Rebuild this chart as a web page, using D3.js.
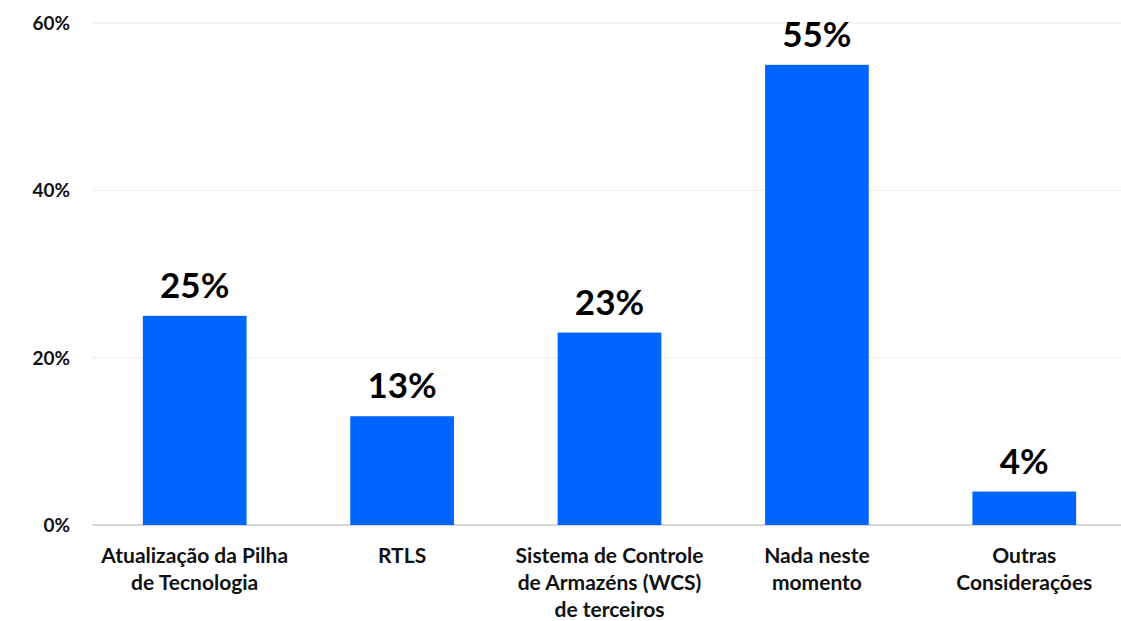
<!DOCTYPE html>
<html>
<head>
<meta charset="utf-8">
<script src="https://cdn.jsdelivr.net/npm/d3@7"></script>
<style>
  html, body { margin: 0; padding: 0; background: #fff; }
  svg { display: block; font-family: Lato, "Noto Sans", sans-serif; }
</style>
</head>
<body>
<svg id="chart" width="1121" height="621"></svg>
<script>
// Survey responses: share of respondents per planned investment
const categories = [
  ["Atualização da Pilha", "de Tecnologia"],
  ["RTLS"],
  ["Sistema de Controle", "de Armazéns (WCS)", "de terceiros"],
  ["Nada neste", "momento"],
  ["Outras", "Considerações"]
];
const values = [25, 13, 23, 55, 4];
const yTicks = [0, 20, 40, 60];

const svg = d3.select("#chart");
const keys = categories.map((c, i) => i);

const x = d3.scaleBand().domain(keys).range([91, 1128]).paddingInner(0.5).paddingOuter(0.25);
const y = d3.scaleLinear().domain([0, 60]).range([525, 23]);

// horizontal gridlines
svg.append("g")
  .selectAll("line")
  .data(yTicks)
  .join("line")
  .attr("x1", 92).attr("x2", 1121)
  .attr("y1", d => y(d)).attr("y2", d => y(d))
  .attr("stroke", d => d === 0 ? "#d6d6d6" : "#ebebf0")
  .attr("stroke-width", d => d === 0 ? 2 : 1);

// y tick labels
svg.append("g")
  .selectAll("text")
  .data(yTicks)
  .join("text")
  .attr("x", 70)
  .attr("y", d => y(d))
  .attr("dy", "0.36em")
  .attr("text-anchor", "end")
  .attr("font-size", 19)
  .attr("font-weight", 700)
  .attr("fill", "#111")
  .text(d => d + "%");

// bars
svg.append("g")
  .selectAll("rect")
  .data(values)
  .join("rect")
  .attr("x", (d, i) => x(i))
  .attr("width", x.bandwidth())
  .attr("y", d => y(d))
  .attr("height", d => y(0) - y(d))
  .attr("fill", "#0066ff");

// value labels
svg.append("g")
  .selectAll("text")
  .data(values)
  .join("text")
  .attr("x", (d, i) => x(i) + x.bandwidth() / 2)
  .attr("y", d => y(d) - 18)
  .attr("text-anchor", "middle")
  .attr("font-size", 35)
  .attr("font-weight", 700)
  .attr("fill", "#000")
  .text(d => d + "%");

// category labels
const cat = svg.append("g")
  .selectAll("text")
  .data(categories)
  .join("text")
  .attr("x", (d, i) => x(i) + x.bandwidth() / 2)
  .attr("y", 563)
  .attr("text-anchor", "middle")
  .attr("font-size", 21)
  .attr("font-weight", 700)
  .attr("fill", "#111");
cat.selectAll("tspan")
  .data(d => d)
  .join("tspan")
  .attr("x", function () { return this.parentNode.getAttribute("x"); })
  .attr("dy", (d, j) => j === 0 ? 0 : 27)
  .text(d => d);
</script>
</body>
</html>
